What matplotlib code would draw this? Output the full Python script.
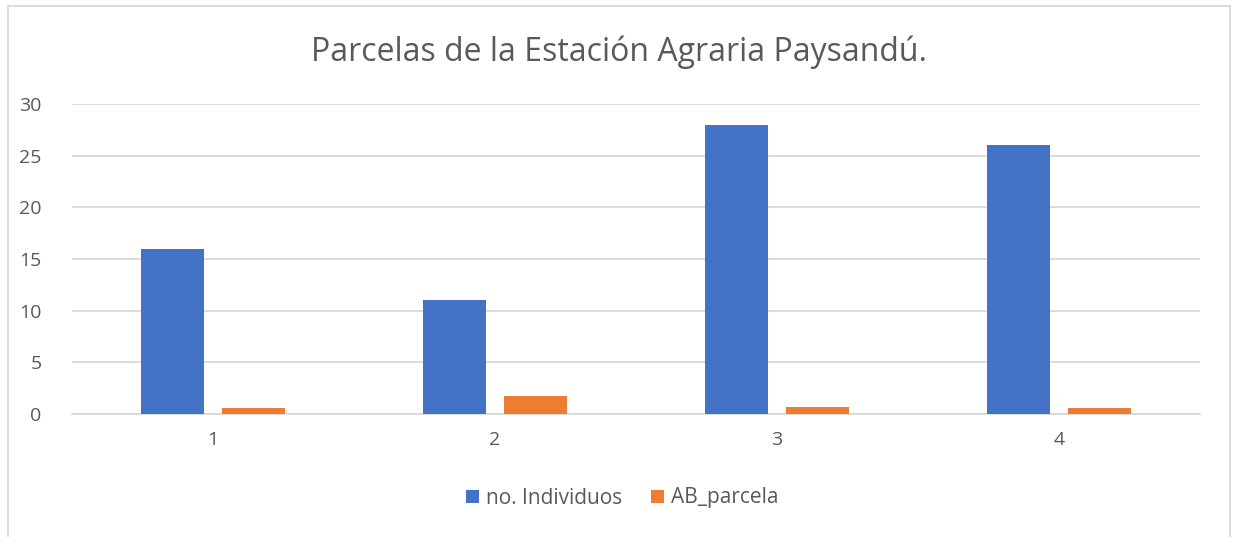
import numpy as np
import matplotlib.pyplot as plt
from matplotlib.patches import Rectangle

plt.rcParams['font.family'] = ['Open Sans', 'DejaVu Sans']

# ---------- data ----------
parcelas = ["1", "2", "3", "4"]
individuos = [16, 11, 28, 26]
ab_parcela = [0.55, 1.75, 0.65, 0.55]
yticks = [0, 5, 10, 15, 20, 25, 30]

W, H = 1233, 537
fig = plt.figure(figsize=(W/100, H/100), dpi=100)
fig.patch.set_facecolor("white")

# outer chart frame (bottom edge lies off the image)
fig.patches.append(Rectangle((8/W, -0.05), (1230-8)/W, 1.05 - 6/H,
                             transform=fig.transFigure, facecolor="none",
                             edgecolor="#d9d9d9", linewidth=1.3, zorder=0))

ax = fig.add_axes([72/W, 123/H, (1200-72)/W, (433-123)/H])

x = np.arange(len(parcelas))
bw = 0.223
off = 0.143
ax.bar(x - off, individuos, width=bw, color="#4472C4", label="no. Individuos", zorder=3)
ax.bar(x + off, ab_parcela, width=bw, color="#ED7D31", label="AB_parcela", zorder=3)

ax.set_xlim(-0.5, len(parcelas) - 0.5)
ax.set_ylim(0, 30)
ax.set_yticks(yticks)
ax.set_xticks(x)
ax.set_xticklabels(parcelas)
ax.yaxis.grid(True, color="#d9d9d9", linewidth=1.3, zorder=0)
ax.set_axisbelow(True)
for s in ["top", "right", "left"]:
    ax.spines[s].set_visible(False)
ax.spines["bottom"].set_color("#d9d9d9")
ax.spines["bottom"].set_linewidth(1.3)
ax.tick_params(axis="both", length=0, labelsize=14, colors="#595959")
ax.tick_params(axis="x", pad=12)
ax.tick_params(axis="y", pad=22)

fig.text(619/W, 1 - 52/H, "Parcelas de la Estación Agraria Paysandú.",
         ha="center", va="center", fontsize=23, color="#595959")

ax.legend(loc="center", bbox_to_anchor=((622.5 - 72) / 1128, -(498 - 414) / 310),
          ncol=2, frameon=False, fontsize=15, labelcolor="#595959",
          handlelength=0.6, handleheight=0.6, handletextpad=0.35, columnspacing=1.4)

plt.savefig("out.png", dpi=100)
